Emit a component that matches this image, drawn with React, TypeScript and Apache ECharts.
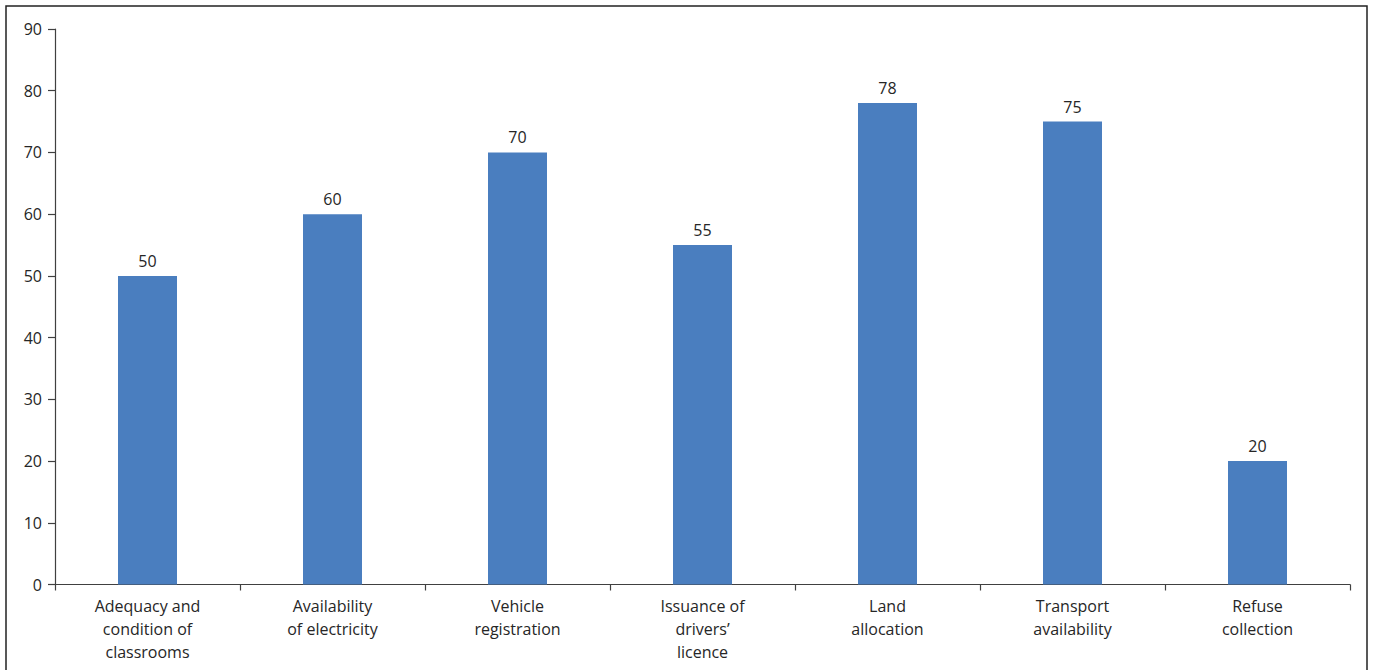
import React, { useEffect, useRef } from "react";
import * as echarts from "echarts";

const categories = [
  "Adequacy and\ncondition of\nclassrooms",
  "Availability\nof electricity",
  "Vehicle\nregistration",
  "Issuance of\ndrivers’\nlicence",
  "Land\nallocation",
  "Transport\navailability",
  "Refuse\ncollection",
];
const values = [50, 60, 70, 55, 78, 75, 20];
const yMin = 0;
const yMax = 90;
const yInterval = 10;

export default function App() {
  const ref = useRef<HTMLDivElement>(null);
  useEffect(() => {
    if (!ref.current) return;
    const chart = echarts.init(ref.current, undefined, { renderer: "svg" });
    const textColor = "#262626";
    const font = "Open Sans";
    chart.setOption({
      animation: false,
      backgroundColor: "#ffffff",
      graphic: [
        {
          type: "rect",
          shape: { x: 6, y: 6, width: 1361, height: 700 },
          style: { fill: "none", stroke: "#222", lineWidth: 1.5 },
          silent: true,
        },
      ],
      grid: { left: 55, right: 23, top: 29, bottom: 85.5 },
      xAxis: {
        type: "category",
        data: categories,
        axisLine: { show: true, lineStyle: { color: "#404040", width: 1.2 } },
        axisTick: { show: true, alignWithLabel: false, length: 6, lineStyle: { color: "#404040", width: 1.2 } },
        axisLabel: {
          color: textColor,
          fontSize: 16,
          fontFamily: font,
          lineHeight: 23,
          margin: 10,
          interval: 0,
        },
      },
      yAxis: {
        type: "value",
        min: yMin,
        max: yMax,
        interval: yInterval,
        axisLine: { show: true, lineStyle: { color: "#404040", width: 1.2 } },
        axisTick: { show: true, length: 7, lineStyle: { color: "#404040", width: 1.2 } },
        splitLine: { show: false },
        axisLabel: { color: textColor, fontSize: 16, fontFamily: font, margin: 13 },
      },
      series: [
        {
          type: "bar",
          data: values,
          barWidth: 59,
          itemStyle: { color: "#4a7ebf" },
          label: {
            show: true,
            position: "top",
            distance: 7,
            color: textColor,
            fontSize: 16,
            fontFamily: font,
          },
        },
      ],
    });
    return () => chart.dispose();
  }, []);
  return (
    <div
      ref={ref}
      style={{ position: "fixed", left: 0, top: 0, width: 1373, height: 670 }}
    />
  );
}
